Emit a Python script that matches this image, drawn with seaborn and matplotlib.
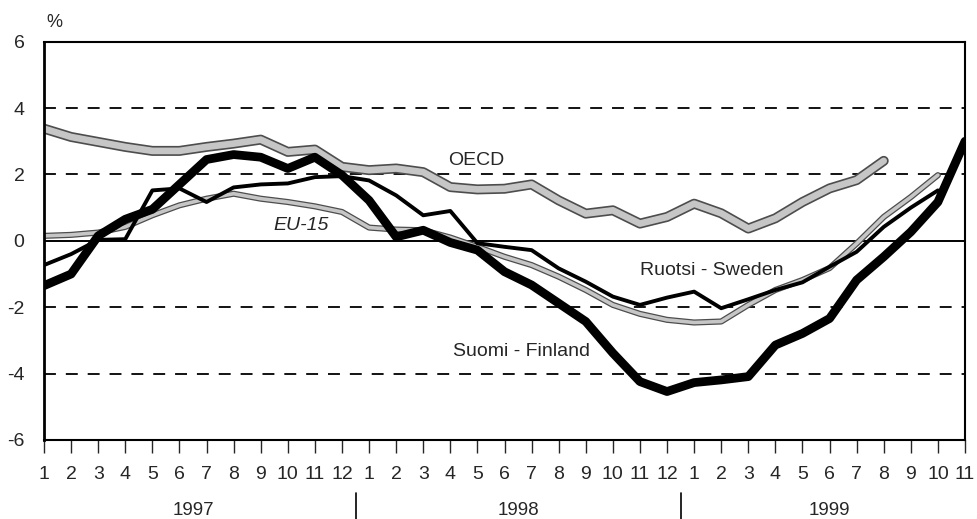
import numpy as np
import pandas as pd
import seaborn as sns
import matplotlib.pyplot as plt
import matplotlib.patheffects as pe

# month labels on the x axis, 1/1997 .. 11/1999
months = list(range(1, 13)) + list(range(1, 13)) + list(range(1, 12))
years = ['1997', '1998', '1999']

# values (%)
finland = [-1.35, -1.0, 0.15, 0.65, 0.95, 1.7, 2.45, 2.6, 2.52, 2.18, 2.52, 1.98,
           1.22, 0.12, 0.32, -0.05, -0.28, -0.93, -1.33, -1.88, -2.43, -3.38, -4.24, -4.54,
           -4.27, -4.19, -4.09, -3.14, -2.79, -2.34, -1.18, -0.48, 0.27, 1.17, 3.0]
sweden = [-0.73, -0.4, 0.03, 0.05, 1.52, 1.58, 1.17, 1.61, 1.7, 1.73, 1.92, 1.95,
          1.82, 1.37, 0.77, 0.9, -0.07, -0.18, -0.28, -0.83, -1.23, -1.68, -1.93, -1.71,
          -1.53, -2.03, -1.76, -1.48, -1.25, -0.78, -0.33, 0.42, 1.0, 1.52, np.nan]
eu15 = [0.15, 0.18, 0.25, 0.42, 0.77, 1.07, 1.27, 1.42, 1.27, 1.17, 1.04, 0.87,
        0.4, 0.34, 0.32, 0.1, -0.18, -0.48, -0.73, -1.08, -1.48, -1.93, -2.2, -2.38,
        -2.46, -2.43, -1.93, -1.48, -1.18, -0.82, -0.08, 0.72, 1.32, 1.98, np.nan]
oecd = [3.38, 3.13, 2.98, 2.83, 2.71, 2.71, 2.83, 2.93, 3.05, 2.68, 2.75, 2.23,
        2.13, 2.18, 2.07, 1.62, 1.55, 1.57, 1.7, 1.22, 0.82, 0.92, 0.52, 0.72,
        1.12, 0.83, 0.37, 0.68, 1.17, 1.58, 1.83, 2.41, np.nan, np.nan, np.nan]

df = pd.DataFrame({'idx': np.arange(len(months)), 'Finland': finland,
                   'Sweden': sweden, 'EU-15': eu15, 'OECD': oecd})

sns.set_style('ticks')
plt.rcParams['font.family'] = ['Liberation Sans', 'DejaVu Sans']
plt.rcParams['axes.unicode_minus'] = False

fig = plt.figure(figsize=(9.77, 5.19), dpi=100)
ax = fig.add_axes([0.04504, 0.15222, 0.94268, 0.76743])

# grid lines first
for v in [-4, -2, 2, 4]:
    ax.axhline(v, color='black', lw=1.3, ls=(0, (6.6, 5.5)), zorder=1)
ax.axhline(0, color='black', lw=1.4, zorder=1)

# grey "double" lines for OECD and EU-15
sns.lineplot(data=df, x='idx', y='OECD', ax=ax, color='#c6c6c6', lw=4.8, zorder=2,
             path_effects=[pe.Stroke(linewidth=7.2, foreground='#4d4d4d'), pe.Normal()])
sns.lineplot(data=df, x='idx', y='EU-15', ax=ax, color='#c6c6c6', lw=2.6, zorder=2,
             path_effects=[pe.Stroke(linewidth=4.4, foreground='#4d4d4d'), pe.Normal()])
sns.lineplot(data=df, x='idx', y='Sweden', ax=ax, color='black', lw=2.8, zorder=3)
sns.lineplot(data=df, x='idx', y='Finland', ax=ax, color='black', lw=6.3, zorder=4,
             solid_capstyle='round')

ax.set_xlim(0, len(months) - 1)
ax.set_ylim(-6, 6)
ax.set_yticks(range(-6, 7, 2))
ax.set_xticks(df['idx'])
ax.set_xticklabels(months)
ax.set_xlabel('')
ax.set_ylabel('')
ax.tick_params(axis='y', length=0, pad=14, labelsize=14)
ax.tick_params(axis='x', length=9, width=1.0, direction='out', pad=10, labelsize=14)

for s in ax.spines.values():
    s.set_visible(True)
    s.set_color('black')
    s.set_linewidth(1.5)
ax.spines['left'].set_linewidth(2)

# series labels
ax.text(15.94, 2.43, 'OECD', fontsize=14, ha='center', va='center')
ax.text(9.48, 0.47, 'EU-15', fontsize=14, ha='center', va='center', style='italic')
ax.text(24.65, -0.9, 'Ruotsi - Sweden', fontsize=14, ha='center', va='center')
ax.text(17.64, -3.34, 'Suomi - Finland', fontsize=14, ha='center', va='center')
ax.text(0.4, 1.047, '%', fontsize=13, ha='center', va='center', transform=ax.get_xaxis_transform())

# year labels and separators below the month ticks
tr = ax.get_xaxis_transform()
for x, y in zip([5.5, 17.5, 29], years):
    ax.text(x, -0.176, y, fontsize=13.5, ha='center', va='center', transform=tr)
for x in [11.5, 23.5]:
    ax.plot([x, x], [-0.133, -0.2], color='black', lw=1.2, transform=tr, clip_on=False)

fig.savefig('out.png', dpi=100)
